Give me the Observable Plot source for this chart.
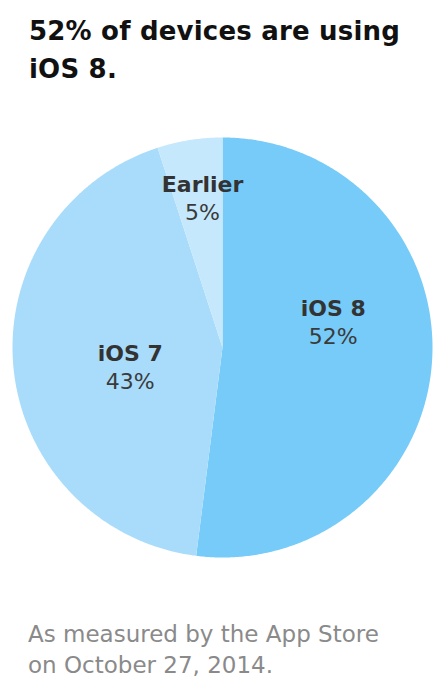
<!DOCTYPE html>
<html><head><meta charset="utf-8">
<script src="https://cdn.jsdelivr.net/npm/d3@7"></script>
<script src="https://cdn.jsdelivr.net/npm/@observablehq/plot@0.6"></script>
<style>
body{margin:0;background:#fff;width:448px;height:700px;position:relative;overflow:hidden;font-family:"DejaVu Sans",sans-serif;}
#title{position:absolute;left:29px;top:12px;font-size:26px;font-weight:bold;line-height:38px;color:#111;letter-spacing:0.2px;}
#chart{position:absolute;left:0;top:130px;}
#caption{position:absolute;left:28px;top:619px;font-size:23px;line-height:31px;color:#8a8a8a;}
</style></head>
<body>
<div id="title">52% of devices are using<br>iOS 8.</div>
<div id="chart"></div>
<div id="caption">As measured by the App Store<br>on October 27, 2014.</div>
<script>
const categories = ["iOS 8", "iOS 7", "Earlier"];
const shares = [52, 43, 5];
const colors = ["#77cbf8", "#a9dcfa", "#c6e8fc"];

const R = 210;
const total = d3.sum(shares);
let acc = 0;
const slices = categories.map((c, i) => {
  const a0 = acc / total * 2 * Math.PI;
  acc += shares[i];
  const a1 = acc / total * 2 * Math.PI;
  return {c, v: shares[i], a0, a1, color: colors[i]};
});
const pts = [];
for (const s of slices) {
  pts.push({c: s.c, x: 0, y: 0});
  const n = Math.max(4, Math.ceil((s.a1 - s.a0) * 120));
  for (let k = 0; k <= n; k++) {
    const a = s.a0 + (s.a1 - s.a0) * k / n;
    pts.push({c: s.c, x: R * Math.sin(a), y: R * Math.cos(a)});
  }
  pts.push({c: s.c, x: 0, y: 0});
}
// label placement: radius fraction and angular offset from slice mid-angle
const labelR = [0.54, 0.45, 0.716];
const labelShift = [-0.281, -0.122, 0.024];
const labels = slices.map((s, i) => {
  const a = (s.a0 + s.a1) / 2 + labelShift[i];
  return {c: s.c, v: s.v + "%", x: labelR[i] * R * Math.sin(a), y: labelR[i] * R * Math.cos(a)};
});

const chart = Plot.plot({
  width: 448, height: 440,
  margin: 0,
  x: {domain: [-222, 226], axis: null},
  y: {domain: [-223, 217], axis: null},
  color: {domain: categories, range: colors},
  style: {fontFamily: "DejaVu Sans, sans-serif", background: "transparent"},
  marks: [
    Plot.line(pts, {x: "x", y: "y", z: "c", fill: "c", stroke: null, curve: "linear"}),
    Plot.text(labels, {x: "x", y: "y", text: "c", dy: -14, fontSize: 22, fontWeight: "bold", fill: "#333"}),
    Plot.text(labels, {x: "x", y: "y", text: "v", dy: 14, fontSize: 22, fill: "#3a3a3a"})
  ]
});
document.getElementById("chart").appendChild(chart);
</script>
</body></html>
